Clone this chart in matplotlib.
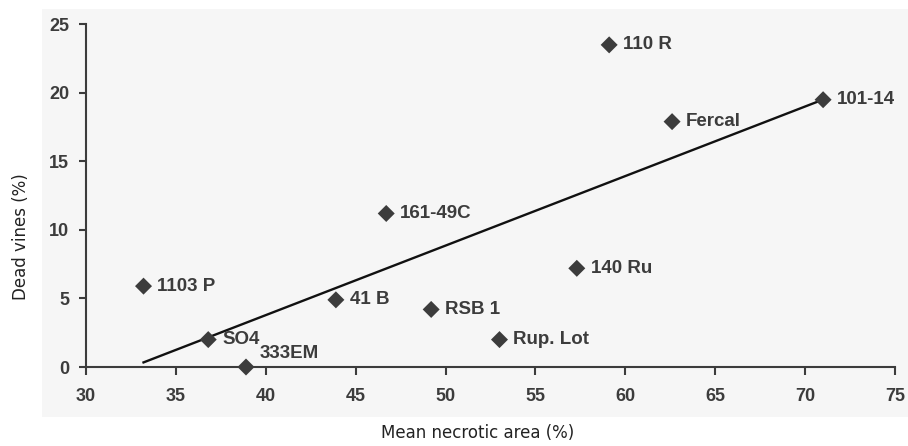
import matplotlib.pyplot as plt
import numpy as np
from matplotlib.patches import Rectangle

# rootstocks: mean necrotic area vs dead vines
names = ["1103 P", "SO4", "333EM", "41 B", "161-49C", "RSB 1",
         "Rup. Lot", "140 Ru", "110 R", "Fercal", "101-14"]
necrotic = [33.2, 36.8, 38.9, 43.9, 46.7, 49.2, 53.0, 57.3, 59.1, 62.6, 71.0]
dead = [5.9, 2.0, 0.0, 4.9, 11.2, 4.2, 2.0, 7.2, 23.5, 17.9, 19.5]
xticks = [30, 35, 40, 45, 50, 55, 60, 65, 70, 75]
yticks = [0, 5, 10, 15, 20, 25]

dark = "#3c3c3c"

fig = plt.figure(figsize=(9.08, 4.46), dpi=100, facecolor="white")
# light grey panel behind the plot
fig.patches.append(Rectangle((0.046, 0.065), 0.954, 0.915, transform=fig.transFigure,
                             facecolor="#f6f6f6", edgecolor="none", zorder=-10))
ax = fig.add_axes([0.0947, 0.1771, 0.891, 0.7684])
ax.set_facecolor("none")

ax.scatter(necrotic, dead, marker="D", s=75, color=dark, zorder=3, edgecolors="none",
           clip_on=False)

# linear trend line
k, b = np.polyfit(necrotic, dead, 1)
xs = np.array([min(necrotic), max(necrotic)])
ax.plot(xs, k * xs + b, color="#111111", lw=1.7, zorder=2)

for n, x, y in zip(names, necrotic, dead):
    off = (10, 10) if n == "333EM" else (10, 0)
    ax.annotate(n, (x, y), xytext=off, textcoords="offset points",
                va="center", ha="left", fontsize=13.5, fontweight="bold",
                family="Liberation Sans", color=dark)

ax.set_xlim(30, 75)
ax.set_ylim(0, 25)
ax.set_xticks(xticks)
ax.set_yticks(yticks)
for lab in ax.get_xticklabels() + ax.get_yticklabels():
    lab.set_family("Liberation Sans")
    lab.set_fontweight("bold")
    lab.set_fontsize(13)
    lab.set_color(dark)
ax.tick_params(axis="x", length=6, width=1.5, color=dark, pad=9, direction="out")
ax.tick_params(axis="y", length=5, width=1.5, color=dark, pad=7, direction="out")
for s in ["top", "right"]:
    ax.spines[s].set_visible(False)
for s in ["left", "bottom"]:
    ax.spines[s].set_linewidth(1.5)
    ax.spines[s].set_color(dark)

fig.text(0.526, 0.029, "Mean necrotic area (%)", ha="center", va="center",
         fontsize=12, family="DejaVu Sans", color="#222222")
fig.text(0.023, 0.469, "Dead vines (%)", ha="center", va="center", rotation=90,
         fontsize=12, family="DejaVu Sans", color="#222222")

fig.savefig("out.png", dpi=100, facecolor="white")
